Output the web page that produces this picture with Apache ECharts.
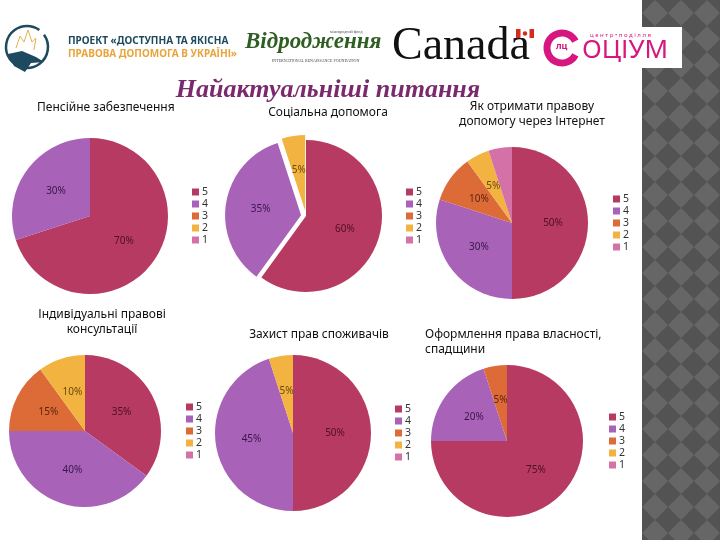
<!DOCTYPE html>
<html>
<head>
<meta charset="utf-8">
<script src="https://cdn.jsdelivr.net/npm/echarts@6/dist/echarts.min.js"></script>
<style>
  html, body { margin: 0; padding: 0; background: #fff; }
  #main { width: 720px; height: 540px; }
</style>
</head>
<body>
<div id="main"></div>
<script>
// дані
var sliceNames = ['5', '4', '3', '2', '1'];
var chartTitles = [
  'Пенсійне забезпечення',
  'Соціальна допомога',
  'Як отримати правову\nдопомогу через Інтернет',
  'Індивідуальні правові\nконсультації',
  'Захист прав споживачів',
  'Оформлення права власності,\nспадщини'
];
var pensionValues  = [70, 30, 0, 0, 0];
var socialValues   = [60, 35, 0, 5, 0];
var internetValues = [50, 30, 10, 5, 5];
var consultValues  = [35, 40, 15, 10, 0];
var consumerValues = [50, 45, 0, 5, 0];
var propertyValues = [75, 20, 5, 0, 0];
var mainTitle = 'Найактуальніші питання';

var allValues = [pensionValues, socialValues, internetValues, consultValues, consumerValues, propertyValues];

// кольори та розміщення
var sliceColors = ['#b73a62', '#a862b8', '#dc6b38', '#f3b340', '#d472a8'];
var labelColors = ['#4e1024', '#3a1748', '#5e250c', '#6b4a0c', '#5a1d40'];
var layout = [
  {center: [90, 216],  r: 78, legend: [192, 186], title: [32, 95, 'left']},
  {center: [306, 216], r: 76, legend: [406, 186], title: [323, 100, 'center']},
  {center: [512, 223], r: 76, legend: [613, 193], title: [527, 94, 'center']},
  {center: [85, 431],  r: 76, legend: [186, 401], title: [97, 302, 'center']},
  {center: [293, 433], r: 78, legend: [395, 403], title: [314, 322, 'center']},
  {center: [507, 441], r: 76, legend: [609, 411], title: [420, 322, 'left']}
];
var exploded = {1: ['4', '2']};

var myChart = echarts.init(document.getElementById('main'));

var titles = [{
  text: mainTitle,
  left: 323, top: 72, textAlign: 'center',
  textStyle: {fontFamily: 'Liberation Serif', fontStyle: 'italic', fontWeight: 'bold', fontSize: 26, color: '#7a2a6c'}
}];
var legends = [];
var series = [];

for (var i = 0; i < allValues.length; i++) {
  var lay = layout[i];
  titles.push({
    text: chartTitles[i],
    left: lay.title[0], top: lay.title[1], textAlign: lay.title[2],
    textStyle: {fontFamily: 'Noto Sans', fontWeight: 'normal', fontSize: 12, lineHeight: 15, color: '#111'}
  });
  legends.push({
    data: sliceNames,
    orient: 'vertical',
    left: lay.legend[0], top: lay.legend[1],
    itemWidth: 7, itemHeight: 7, itemGap: 0, padding: 0,
    icon: 'rect', selectedMode: false,
    textStyle: {fontFamily: 'Noto Sans', fontSize: 10.5, lineHeight: 12, color: '#333', padding: [0, 0, 0, -2]}
  });
  var data = [];
  for (var k = 0; k < sliceNames.length; k++) {
    var sel = exploded[i] && exploded[i].indexOf(sliceNames[k]) >= 0;
    data.push({
      name: sliceNames[k],
      value: allValues[i][k],
      selected: !!sel,
      itemStyle: {color: sliceColors[k]},
      label: {color: labelColors[k]}
    });
  }
  series.push({
    type: 'pie',
    center: lay.center,
    radius: lay.r,
    startAngle: 90,
    clockwise: true,
    silent: true,
    animation: false,
    selectedMode: exploded[i] ? 'multiple' : false,
    selectedOffset: 5,
    stillShowZeroSum: true,
    itemStyle: {borderWidth: 0},
    emphasis: {disabled: true},
    label: {
      show: true,
      position: 'inside',
      fontFamily: 'Noto Sans',
      fontSize: 10,
      formatter: function (p) { return p.value > 0 ? p.value + '%' : ''; }
    },
    labelLine: {show: false},
    data: data
  });
}

// смуга праворуч (ромби)
var stripX = 642;
var strip = [{type: 'rect', shape: {x: stripX, y: 0, width: 78, height: 540}, style: {fill: '#666666'}, z: 0}];
var p = 26;
for (var gx = 0; gx <= 3; gx++) {
  for (var gy = 0; gy <= 21; gy++) {
    var cx = stripX + gx * p, cy = gy * p;
    var pts = gx === 0
      ? [[cx, cy - p / 2], [cx + p / 2, cy], [cx, cy + p / 2]]
      : [[cx, cy - p / 2], [cx + p / 2, cy], [cx, cy + p / 2], [cx - p / 2, cy]];
    strip.push({
      type: 'polygon',
      shape: {points: pts},
      style: {fill: '#535353'}, z: 1
    });
  }
}

// логотипи
var logos = [
  {type: 'rect', shape: {x: 540, y: 27, width: 142, height: 41}, style: {fill: '#fff'}, z: 5},
  {type: 'arc', shape: {cx: 27, cy: 47, r: 21, startAngle: -Math.PI * 0.2, endAngle: Math.PI * 1.7}, style: {stroke: '#1d4a5e', lineWidth: 2.5, fill: null}, z: 6},
  {type: 'polygon', shape: {points: [[8, 54], [22, 51], [36, 57], [44, 62], [31, 63], [25, 72], [14, 66]]}, style: {fill: '#1d4a5e'}, z: 6},
  {type: 'polyline', shape: {points: [[16, 48], [20, 36], [24, 42], [28, 30], [32, 42], [36, 38], [34, 50]]}, style: {stroke: '#e7b24a', lineWidth: 1, fill: null}, z: 6},
  {type: 'text', left: 68, top: 36, style: {text: 'ПРОЕКТ «ДОСТУПНА ТА ЯКІСНА', fill: '#1d4a5e', font: 'bold 10px "Noto Sans"'}, z: 6},
  {type: 'text', left: 68, top: 49, style: {text: 'ПРАВОВА ДОПОМОГА В УКРАЇНІ»', fill: '#e9a33a', font: 'bold 10px "Noto Sans"'}, z: 6},
  {type: 'text', left: 245, top: 31, style: {text: 'Відродження', fill: '#2f5e22', font: 'italic bold 23px "Liberation Serif"'}, z: 6},
  {type: 'text', left: 330, top: 30, style: {text: 'міжнародний фонд', fill: '#555', font: '4px "Liberation Serif"'}, z: 6},
  {type: 'text', left: 272, top: 59, style: {text: 'INTERNATIONAL RENAISSANCE FOUNDATION', fill: '#444', font: '4px "Liberation Serif"'}, z: 6},
  {type: 'text', left: 392, top: 24, style: {text: 'Canada', fill: '#111', font: '46px "Liberation Serif"'}, z: 6},
  {type: 'rect', shape: {x: 516, y: 29, width: 18, height: 9}, style: {fill: '#d52b1e'}, z: 7},
  {type: 'rect', shape: {x: 520.5, y: 29, width: 9, height: 9}, style: {fill: '#fff'}, z: 7},
  {type: 'circle', shape: {cx: 525, cy: 33.5, r: 2.2}, style: {fill: '#d52b1e'}, z: 8},
  {type: 'arc', shape: {cx: 562, cy: 48, r: 15, startAngle: Math.PI * 0.15, endAngle: Math.PI * 1.85}, style: {stroke: '#d6177f', lineWidth: 7, fill: null}, z: 6},
  {type: 'text', left: 556, top: 42, style: {text: 'лц', fill: '#d6177f', font: 'bold 9px "Noto Sans"'}, z: 6},
  {type: 'text', left: 590, top: 32, style: {text: 'ц е н т р • п о д і л л я', fill: '#d6177f', font: '6px "Noto Sans"'}, z: 6},
  {type: 'text', left: 582, top: 38, style: {text: 'ОЦІУМ', fill: '#d6177f', font: '26px "Noto Sans"'}, z: 6}
];

var option = {
  backgroundColor: '#fff',
  animation: false,
  color: sliceColors,
  title: titles,
  legend: legends,
  graphic: strip.concat(logos),
  series: series
};
myChart.setOption(option);
</script>
</body>
</html>
